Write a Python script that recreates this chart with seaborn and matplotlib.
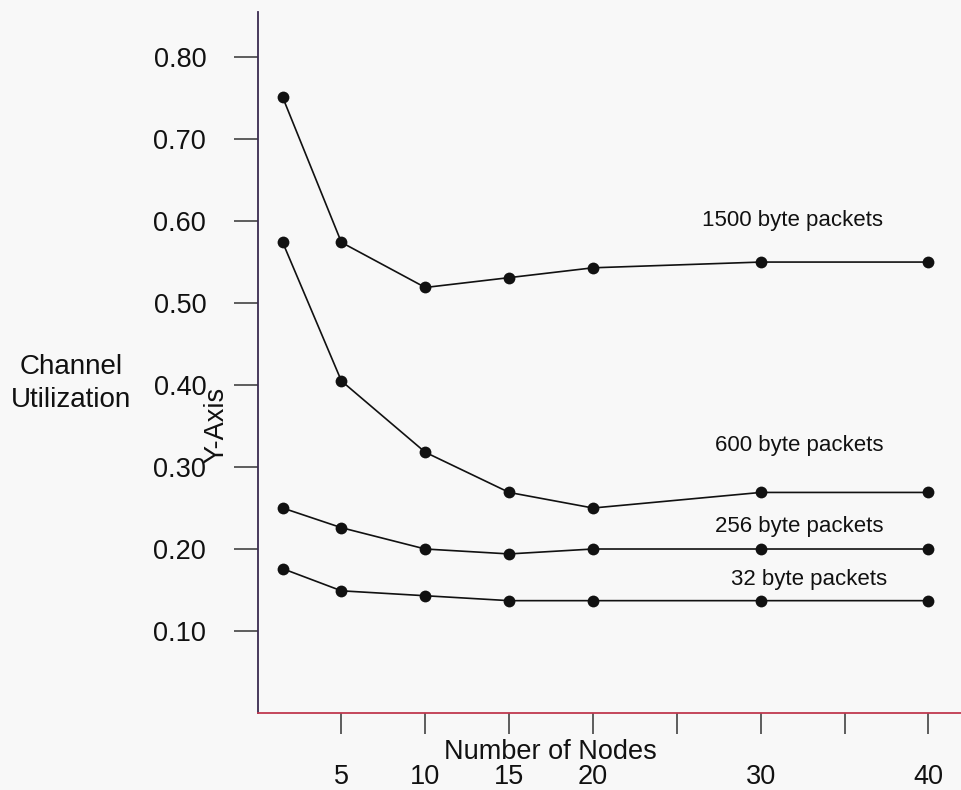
import pandas as pd
import seaborn as sns
import matplotlib.pyplot as plt

# values
nodes = [1.5, 5, 10, 15, 20, 30, 40]
util_1500 = [0.751, 0.574, 0.519, 0.531, 0.543, 0.550, 0.550]
util_600 = [0.574, 0.405, 0.318, 0.269, 0.250, 0.269, 0.269]
util_256 = [0.250, 0.226, 0.200, 0.194, 0.200, 0.200, 0.200]
util_32 = [0.176, 0.149, 0.143, 0.137, 0.137, 0.137, 0.137]
series_names = ['1500 byte packets', '600 byte packets', '256 byte packets', '32 byte packets']
x_ticks = [5, 10, 15, 20, 25, 30, 35, 40]
x_tick_labels = ['5', '10', '15', '20', '', '30', '', '40']
y_ticks = [0.10, 0.20, 0.30, 0.40, 0.50, 0.60, 0.70, 0.80]

rows = []
for name, vals in zip(series_names, [util_1500, util_600, util_256, util_32]):
    for n, v in zip(nodes, vals):
        rows.append({'nodes': n, 'util': v, 'series': name})
df = pd.DataFrame(rows)

sns.set_style('ticks')
plt.rcParams['font.family'] = ['Liberation Sans', 'DejaVu Sans']

bg = '#f8f8f8'
fig = plt.figure(figsize=(9.62, 7.9), dpi=100, facecolor=bg)
ax = fig.add_axes([0.2677, 0.0975, 0.7323, 0.8873])
ax.set_facecolor(bg)

sns.lineplot(data=df, x='nodes', y='util', hue='series',
             palette=['#111111'] * 4, marker='o', markersize=8.5,
             markeredgewidth=0, linewidth=1.2, legend=False, ax=ax)

ax.set_xlim(0, 42)
ax.set_ylim(0, 0.855)

ax.set_xticks(x_ticks)
ax.set_xticklabels(x_tick_labels, fontsize=19.5)
ax.set_yticks(y_ticks)
ax.set_yticklabels([f'{t:.2f}' for t in y_ticks], fontsize=19.5)
ax.tick_params(axis='y', length=17, width=1.1, pad=20, colors='#333333', labelcolor='#111111')
ax.tick_params(axis='x', length=15, width=1.1, pad=22, colors='#333333', labelcolor='#111111')

for s in ['top', 'right']:
    ax.spines[s].set_visible(False)
ax.spines['left'].set_color('#3a2a50')
ax.spines['left'].set_linewidth(1.3)
ax.spines['bottom'].set_color('#c0394f')
ax.spines['bottom'].set_linewidth(1.3)

ax.set_xlabel('')
ax.set_ylabel('')

# series labels
label_pos = [(31.9, 0.601), (32.3, 0.326), (32.3, 0.227), (32.9, 0.163)]
for name, (lx, ly) in zip(series_names, label_pos):
    ax.text(lx, ly, name, fontsize=16, ha='center', va='center', color='#111111')

fig.text(550 / 962, 1 - 752 / 790, 'Number of Nodes', fontsize=19.5,
         ha='center', va='center', color='#111111')
fig.text(71 / 962, 1 - 384 / 790, 'Channel\nUtilization', fontsize=20,
         ha='center', va='center', color='#111111', linespacing=1.35)
fig.text(216 / 962, 1 - 425 / 790, 'Y-Axis', fontsize=19.5, rotation=90,
         ha='center', va='center', color='#111111')

fig.savefig('out.png', dpi=100, facecolor=bg)
